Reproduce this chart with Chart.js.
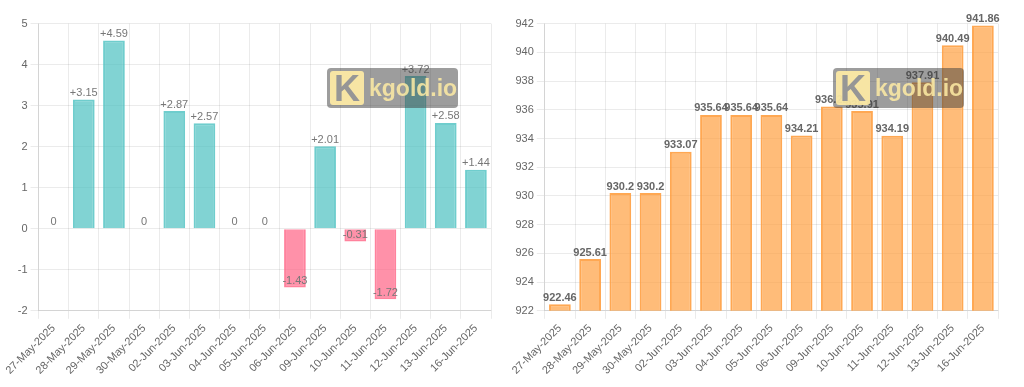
<!DOCTYPE html>
<html>
<head>
<meta charset="utf-8">
<script src="https://cdn.jsdelivr.net/npm/chart.js@4.4.1/dist/chart.umd.min.js"></script>
<style>
  body { margin: 0; background: #fff; width: 1024px; height: 387px; overflow: hidden; position: relative; }
  .box { position: absolute; top: 14px; height: 366px; }
  #left-box { left: 4px; width: 491px; }
  #right-box { left: 510px; width: 492px; }
  .wm {
    position: absolute; width: 131px; height: 40px; border-radius: 4px;
    background: rgba(60, 60, 60, 0.5); z-index: 5;
  }
  .wm .logo {
    position: absolute; left: 3px; top: 3px; width: 34px; height: 34px; border-radius: 3px;
    background: rgba(255, 236, 165, 0.92); color: rgba(150, 150, 150, 1);
    font: bold 36px 'Liberation Sans', Arial, sans-serif; line-height: 36px; text-align: center;
  }
  .wm .txt {
    position: absolute; left: 42px; top: 6px;
    font: bold 23px 'Liberation Sans', Arial, sans-serif; line-height: 28px;
    color: rgba(255, 236, 165, 0.85);
  }
</style>
</head>
<body>
<div class="box" id="left-box"><canvas id="change"></canvas></div>
<div class="box" id="right-box"><canvas id="price"></canvas></div>
<div class="wm" style="left:327px;top:68px"><div class="logo">K</div><div class="txt">kgold.io</div></div>
<div class="wm" style="left:833px;top:68px"><div class="logo">K</div><div class="txt">kgold.io</div></div>
<script>
  const dates = ['27-May-2025', '28-May-2025', '29-May-2025', '30-May-2025', '02-Jun-2025',
    '03-Jun-2025', '04-Jun-2025', '05-Jun-2025', '06-Jun-2025', '09-Jun-2025',
    '10-Jun-2025', '11-Jun-2025', '12-Jun-2025', '13-Jun-2025', '16-Jun-2025'];
  const changes = [0, 3.15, 4.59, 0, 2.87, 2.57, 0, 0, -1.43, 2.01, -0.31, -1.72, 3.72, 2.58, 1.44];
  const prices = [922.46, 925.61, 930.2, 930.2, 933.07, 935.64, 935.64, 935.64, 934.21,
    936.22, 935.91, 934.19, 937.91, 940.49, 941.86];

  const valueLabels = {
    id: 'valueLabels',
    afterDatasetsDraw: (chart, args, opts) => {
      const ctx = chart.ctx;
      ctx.save();
      ctx.font = opts.font;
      ctx.fillStyle = opts.color;
      ctx.textAlign = 'center';
      ctx.textBaseline = 'bottom';
      chart.data.datasets.forEach((ds, di) => {
        chart.getDatasetMeta(di).data.forEach((bar, i) => {
          ctx.fillText(opts.format(ds.data[i]), bar.x, bar.y - 1);
        });
      });
      ctx.restore();
    },
  };

  const xAxis = {
    ticks: { minRotation: 45, maxRotation: 45, autoSkip: false, color: '#666', font: { size: 11 } },
    grid: { color: 'rgba(0,0,0,0.08)' },
  };

  new Chart(document.getElementById('change'), {
    type: 'bar',
    data: {
      labels: dates,
      datasets: [{
        data: changes,
        backgroundColor: changes.map(v => v < 0 ? 'rgba(255,99,132,0.7)' : 'rgba(75,192,192,0.7)'),
        borderColor: changes.map(v => v < 0 ? 'rgba(255,99,132,0.8)' : 'rgba(75,192,192,0.8)'),
        borderWidth: 2,
      }],
    },
    options: {
      responsive: true,
      maintainAspectRatio: false,
      animation: false,
      layout: { padding: { right: 4 } },
      plugins: {
        legend: { display: false },
        tooltip: { enabled: false },
        valueLabels: {
          font: '11px "Liberation Sans", Arial, sans-serif',
          color: '#777',
          format: v => (v > 0 ? '+' + v : String(v)),
        },
      },
      scales: {
        x: xAxis,
        y: {
          min: -2, max: 5,
          ticks: { stepSize: 1, color: '#666', font: { size: 11 } },
          grid: { color: 'rgba(0,0,0,0.08)' },
        },
      },
    },
    plugins: [valueLabels],
  });

  new Chart(document.getElementById('price'), {
    type: 'bar',
    data: {
      labels: dates,
      datasets: [{
        data: prices,
        backgroundColor: 'rgba(255,159,64,0.7)',
        borderColor: 'rgba(255,159,64,0.9)',
        borderWidth: 2,
      }],
    },
    options: {
      responsive: true,
      maintainAspectRatio: false,
      animation: false,
      layout: { padding: { right: 4 } },
      plugins: {
        legend: { display: false },
        tooltip: { enabled: false },
        valueLabels: {
          font: 'bold 11px "Liberation Sans", Arial, sans-serif',
          color: '#666',
          format: v => String(v),
        },
      },
      scales: {
        x: xAxis,
        y: {
          min: 922, max: 942,
          ticks: { stepSize: 2, color: '#666', font: { size: 11 } },
          grid: { color: 'rgba(0,0,0,0.08)' },
        },
      },
    },
    plugins: [valueLabels],
  });
</script>
</body>
</html>
